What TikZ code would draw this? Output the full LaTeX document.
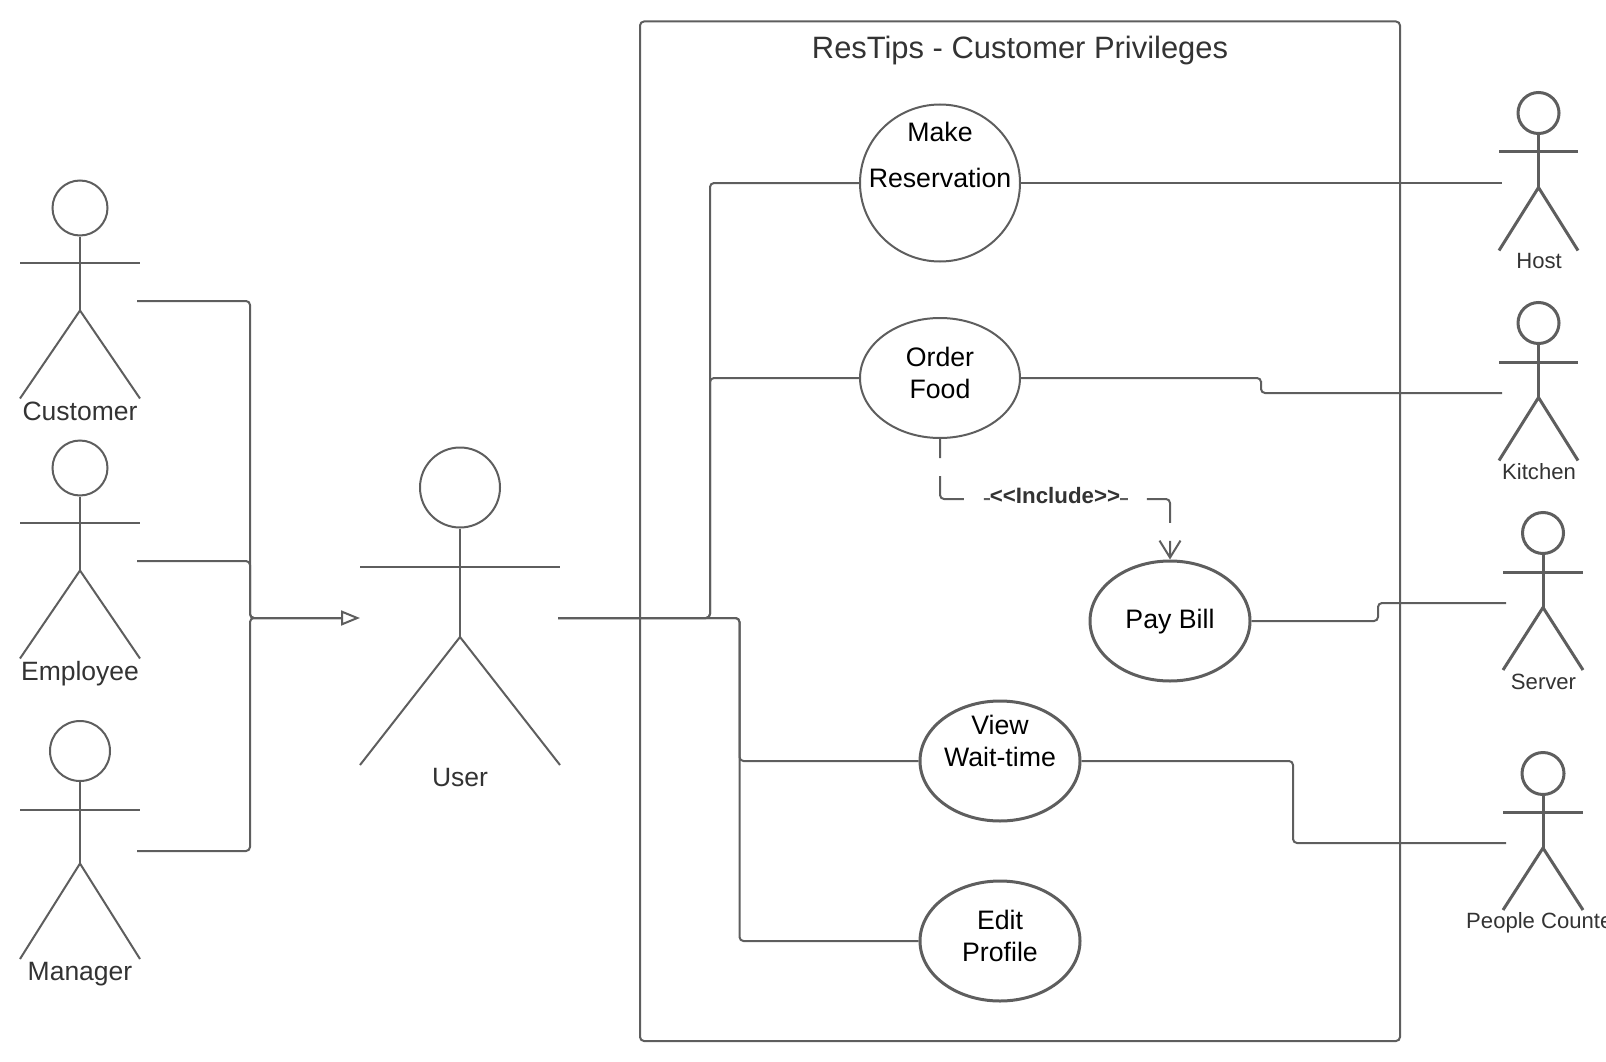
\documentclass[tikz,border=0pt]{standalone}
\usepackage{fontspec}
\setmainfont{Liberation Sans}
\usetikzlibrary{shapes.geometric,arrows.meta}

\definecolor{linegray}{HTML}{5E5E5E}
\definecolor{textgray}{HTML}{333333}

% stick figure: name, x, head y, head radius, arms y, hip y, foot y, half width
\newcommand{\stickman}[8]{
    \node[circle,draw=linegray,inner sep=0,minimum size={2*#4}] (#1-head) at (#2,#3) {};
    \draw[draw=linegray] (#1-head.south) to (#2,#6);
    \draw[draw=linegray] ({#2-#8},#5) to ({#2+#8},#5);
    \draw[draw=linegray] ({#2-#8},#7) to (#2,#6) to ({#2+#8},#7);
}

\begin{document}
\begin{tikzpicture}[x=1pt,y=-1pt,
    conn/.style={draw=linegray,line width=2pt,rounded corners=4pt},
    usecase/.style={ellipse,draw=linegray,inner sep=0,minimum width=160pt,minimum height=120pt},
    casetxt/.style={align=center,text=black,font=\fontsize{26.7}{32}\selectfont},
    bigtxt/.style={text=textgray,font=\fontsize{26.5}{32}\selectfont},
    smalltxt/.style={text=textgray,font=\fontsize{22.1}{26}\selectfont}]
    \useasboundingbox (0,0) rectangle (1606,1062);

    % system boundary
    \node[draw=linegray,line width=2pt,rounded corners=4pt,inner sep=0,
        minimum width=760pt,minimum height=1019.5pt] (sys) at (1020,531.25) {};
    \node[text=textgray,font=\fontsize{30.9}{36}\selectfont] (title) at (1020,51) {ResTips - Customer Privileges};

    % actors on the left
    \begin{scope}[line width=2pt]
        \stickman{cust}{80}{208}{27.5}{263}{310.5}{398.5}{60}
        \stickman{empl}{80}{468}{27.5}{523}{570.5}{658.5}{60}
        \stickman{mngr}{80}{751}{30}{810}{863.5}{959}{60}
        \stickman{user}{460}{487.5}{40}{567}{637}{765}{100}
    \end{scope}
    \node[bigtxt] (cust-lbl) at (80,411.5) {Customer};
    \node[bigtxt] (empl-lbl) at (80,674) {Employee};
    \node[bigtxt] (mngr-lbl) at (80,974) {Manager};
    \node[bigtxt] (user-lbl) at (460,778) {User};

    % actors on the right
    \begin{scope}[line width=3pt]
        \stickman{host}{1538.5}{113}{20.5}{152}{187.5}{250.5}{39.5}
        \stickman{kitc}{1538.5}{323}{20.5}{362}{397.5}{460.5}{39.5}
        \stickman{serv}{1543}{533}{20.5}{572}{607.5}{670}{40}
        \stickman{peop}{1543}{773.5}{21}{812}{848}{910}{40}
    \end{scope}
    \node[smalltxt] (host-lbl) at (1539,261.5) {Host};
    \node[smalltxt] (kitc-lbl) at (1539,471.5) {Kitchen};
    \node[smalltxt] (serv-lbl) at (1543.5,681.5) {Server};
    \node[smalltxt] (peop-lbl) at (1543,923) {People Counter};

    % use cases
    \node[usecase,line width=2pt,minimum height=157pt] (make) at (940,183) {};
    \node[usecase,line width=2pt] (order) at (940,378) {};
    \node[usecase,line width=3pt] (pay) at (1170,621) {};
    \node[usecase,line width=3pt] (view) at (1000,761) {};
    \node[usecase,line width=3pt] (edit) at (1000,941) {};
    \node[casetxt] (make-txt) at (940,155) {Make\\[14pt]Reservation};
    \node[casetxt] (order-txt) at (940,372.5) {Order\\Food};
    \node[casetxt] (pay-txt) at (1170,621.5) {Pay Bill};
    \node[casetxt] (view-txt) at (1000,741) {View\\Wait-time};
    \node[casetxt] (edit-txt) at (1000,936) {Edit\\Profile};

    % free ends and bends
    \coordinate (cust-hand) at (137,301);
    \coordinate (empl-hand) at (137,561);
    \coordinate (mngr-hand) at (137,851);
    \coordinate (user-in) at (360,618);
    \coordinate (user-out) at (558,618);
    \coordinate (bend-in) at (250,618);
    \coordinate (bend-up) at (710,618);
    \coordinate (bend-down) at (739.5,618);
    \coordinate (host-hand) at (1502,183);
    \coordinate (kitc-hand) at (1502,393);
    \coordinate (serv-hand) at (1506,603);
    \coordinate (peop-hand) at (1506,843);
    \coordinate (bend-kitc) at (1261,385);
    \coordinate (bend-serv) at (1378,612);
    \coordinate (bend-peop) at (1293,800);
    \coordinate (bend-incl) at (1054,499);

    % connectors
    \draw[conn,-{Triangle[open,length=19pt,width=15pt]}] (cust-hand) -| (bend-in) -- (user-in);
    \draw[conn] (empl-hand) -| (bend-in) -- ([xshift=-19pt]user-in);
    \draw[conn] (mngr-hand) -| (bend-in) -- ([xshift=-19pt]user-in);
    \draw[conn] (user-out) -- (bend-up) |- (make.west);
    \draw[conn] (user-out) -- (bend-up) |- (order.west);
    \draw[conn] (user-out) -- (bend-down) |- (view.west);
    \draw[conn] (user-out) -- (bend-down) |- (edit.west);
    \draw[conn] (make.east) -- (host-hand);
    \draw[conn] (order.east) -| (bend-kitc) |- (kitc-hand);
    \draw[conn] (pay.east) -| (bend-serv) |- (serv-hand);
    \draw[conn] (view.east) -| (bend-peop) |- (peop-hand);
    \draw[conn,dash pattern=on 19pt off 18pt on 45pt off 20pt on 144pt off 19pt on 45pt off 18pt on 40pt,
        -{Straight Barb[length=17pt,width=21pt]}] (order.south) |- (bend-incl) -| (pay.north);
    \node[fill=white,inner sep=0,text=textgray,font=\fontsize{22.3}{26}\selectfont\bfseries] (incl) at (1055,496) {{<}{<}Include{>}{>}};
\end{tikzpicture}
\end{document}
